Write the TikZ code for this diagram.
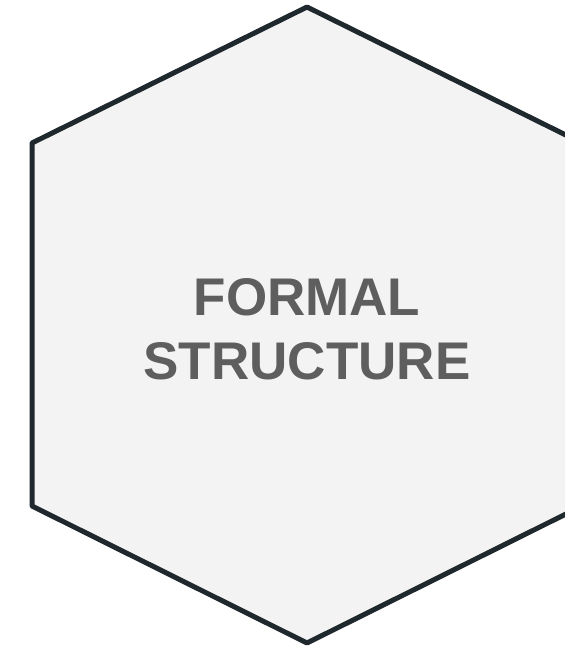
\documentclass[tikz,border=0pt]{standalone}
\usepackage{fontspec}
\setmainfont{Liberation Sans}
\usetikzlibrary{positioning}
\definecolor{hexline}{RGB}{31,40,45}
\definecolor{hexfill}{RGB}{243,243,243}
\definecolor{labelgray}{RGB}{94,94,94}
\begin{document}
\begin{tikzpicture}[x=1pt,y=-1pt,every node/.style={font=\fontsize{53}{64}\selectfont\bfseries,align=center,text=labelgray}]
    \useasboundingbox (0,0) rectangle (565,651);
    \clip (0,0) rectangle (565,651);
    \coordinate (top) at (307,7);
    \coordinate (ul) at (32,143);
    \coordinate (ll) at (32,506);
    \coordinate (bot) at (307,643);
    \coordinate (lr) at (582,506);
    \coordinate (ur) at (582,143);
    \draw[draw=hexline,fill=hexfill,line width=5pt,line join=round] (top)--(ul)--(ll)--(bot)--(lr)--(ur)--cycle;
    \node (title) at (307,329){FORMAL\\STRUCTURE};
  \end{tikzpicture}
\end{document}
